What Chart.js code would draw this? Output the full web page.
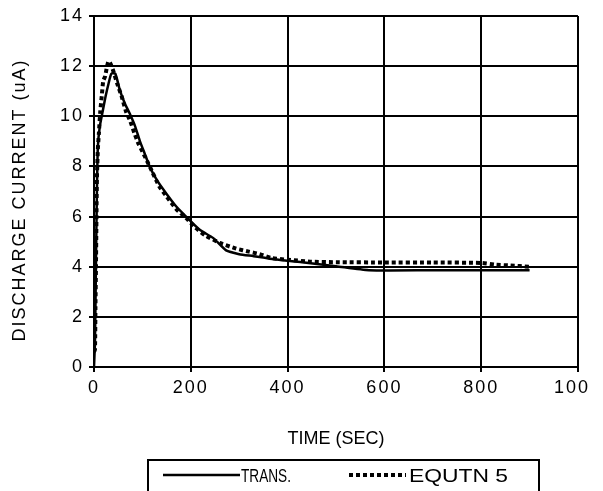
<!DOCTYPE html>
<html>
<head>
<meta charset="utf-8">
<script src="https://cdn.jsdelivr.net/npm/chart.js@4.4.1/dist/chart.umd.min.js"></script>
<style>
  body { margin: 0; background: #fff; }
  /* the 1000 label runs off the right edge, keep it clipped */
  .wrap { width: 588px; height: 491px; overflow: hidden; }
</style>
</head>
<body>
<div class="wrap">
  <canvas id="dischargeChart" width="603" height="491"></canvas>
</div>
<script>
// measured discharge current, transient
const transTime = [0, 2, 4, 6, 8, 12, 18, 24, 30, 36, 44, 54, 64, 74, 85, 95, 105, 115, 130, 150, 170, 198, 220, 246, 273, 300, 330, 363, 430, 500, 568, 700, 800, 900];
const transCurrent = [0, 1.0, 4.0, 7.0, 8.8, 9.6, 10.2, 10.8, 11.3, 11.7, 11.7, 11.0, 10.5, 10.1, 9.6, 9.0, 8.5, 8.0, 7.45, 6.9, 6.4, 5.85, 5.45, 5.15, 4.65, 4.5, 4.42, 4.32, 4.18, 4.02, 3.86, 3.86, 3.86, 3.86];

// equation 5 curve
const eqTime = [0, 2, 3, 4, 5, 6, 8, 10, 13, 16, 19, 23, 27, 30, 34, 40, 48, 57, 66, 75, 84, 92, 100, 110, 120, 135, 150, 170, 190, 210, 230, 260, 294, 320, 342, 366, 400, 450, 500, 600, 700, 800, 830, 860, 900];
const eqCurrent = [0.6, 0.7, 2.4, 3.9, 5.8, 7.5, 8.7, 9.3, 10.2, 10.8, 11.4, 11.6, 12.0, 12.2, 12.1, 11.8, 11.3, 10.8, 10.2, 9.8, 9.3, 8.9, 8.6, 8.2, 7.8, 7.2, 6.8, 6.3, 5.95, 5.55, 5.25, 4.95, 4.72, 4.6, 4.5, 4.35, 4.28, 4.2, 4.18, 4.17, 4.17, 4.15, 4.08, 4.05, 4.0];

const xTicks = [0, 200, 400, 600, 800, 1000];
const yTicks = [0, 2, 4, 6, 8, 10, 12, 14];

const seriesNames = ['TRANS.', 'EQUTN 5'];
const xTitle = 'TIME (SEC)';
const yTitle = 'DISCHARGE CURRENT (uA)';

const FONT = '"Liberation Sans", Arial, sans-serif';
const dotDash = [4, 3];

const toPoints = (xs, ys) => xs.map((x, i) => ({ x: x, y: ys[i] }));

// spaced-out tick numbers, axis titles and the boxed legend
const excelLook = {
  id: 'excelLook',
  beforeDraw(chart) {
    chart.ctx.letterSpacing = '2px';
  },
  afterDraw(chart) {
    const ctx = chart.ctx;
    const area = chart.chartArea;
    ctx.letterSpacing = '0px';
    ctx.save();
    ctx.fillStyle = '#000';
    ctx.font = '18px ' + FONT;
    ctx.textAlign = 'center';
    ctx.textBaseline = 'alphabetic';
    ctx.fillText(xTitle, (area.left + area.right) / 2, 444);

    ctx.save();
    ctx.translate(25, 200);
    ctx.rotate(-Math.PI / 2);
    ctx.letterSpacing = '2px';
    ctx.fillText(yTitle, 0, 0);
    ctx.restore();

    // legend box, bottom runs past the canvas
    ctx.strokeStyle = '#000';
    ctx.lineWidth = 2;
    ctx.strokeRect(148, 460, 391, 40);

    ctx.textAlign = 'left';
    ctx.lineWidth = 2.5;
    ctx.beginPath();
    ctx.moveTo(163, 475);
    ctx.lineTo(240, 475);
    ctx.stroke();
    ctx.fillText(seriesNames[0], 241, 482, 50);

    ctx.lineWidth = 4;
    ctx.setLineDash(dotDash);
    ctx.beginPath();
    ctx.moveTo(349, 475);
    ctx.lineTo(406, 475);
    ctx.stroke();
    ctx.setLineDash([]);
    // second label is set wide
    ctx.save();
    ctx.translate(409, 482);
    ctx.scale(1.27, 1);
    ctx.fillText(seriesNames[1], 0, 0);
    ctx.restore();
    ctx.restore();
  }
};

const ctx = document.getElementById('dischargeChart');
new Chart(ctx, {
  type: 'line',
  data: {
    datasets: [
      {
        label: seriesNames[0],
        data: toPoints(transTime, transCurrent),
        borderColor: '#000',
        borderWidth: 2.5,
        pointRadius: 0,
        tension: 0.2,
      },
      {
        label: seriesNames[1],
        data: toPoints(eqTime, eqCurrent),
        borderColor: '#000',
        borderWidth: 4,
        borderDash: dotDash,
        pointRadius: 0,
        tension: 0.2,
      },
    ],
  },
  options: {
    responsive: false,
    animation: false,
    devicePixelRatio: 1,
    layout: { padding: { top: 16, right: 22, left: 0, bottom: 0 } },
    plugins: {
      legend: { display: false },
      tooltip: { enabled: false },
    },
    scales: {
      x: {
        type: 'linear',
        min: 0,
        max: 1000,
        afterBuildTicks: (scale) => {
          scale.ticks = xTicks.map((v) => ({ value: v }));
        },
        afterFit: (scale) => {
          scale.height = 124;
        },
        grid: { color: '#000', lineWidth: 2, tickLength: 5, tickColor: '#000' },
        border: { color: '#000', width: 2 },
        ticks: {
          color: '#000',
          font: { family: FONT, size: 18 },
          padding: 5,
          maxRotation: 0,
          callback: (v) => String(v),
        },
      },
      y: {
        min: 0,
        max: 14,
        afterBuildTicks: (scale) => {
          scale.ticks = yTicks.map((v) => ({ value: v }));
        },
        afterFit: (scale) => {
          scale.width = 94;
        },
        grid: { color: '#000', lineWidth: 2, tickLength: 5, tickColor: '#000' },
        border: { color: '#000', width: 2 },
        ticks: {
          color: '#000',
          font: { family: FONT, size: 18 },
          padding: 5,
          callback: (v) => String(v),
        },
      },
    },
  },
  plugins: [excelLook],
});
</script>
</body>
</html>
